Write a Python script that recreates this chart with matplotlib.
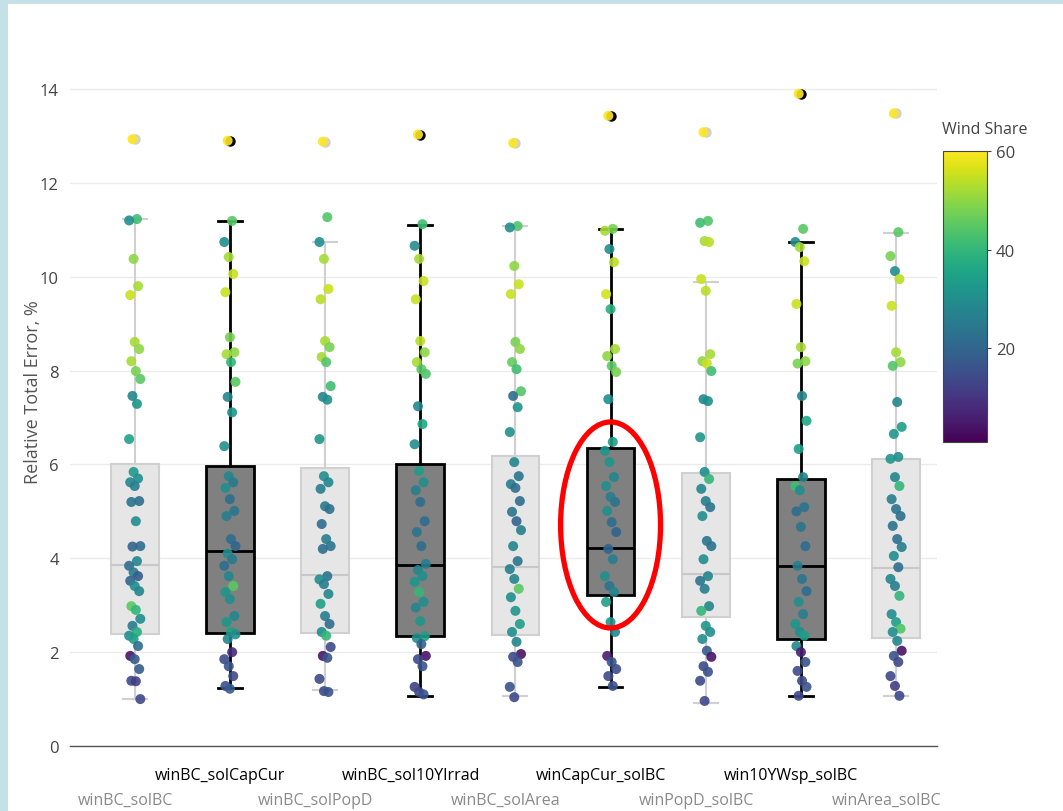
import numpy as np
import matplotlib
matplotlib.use("Agg")
import matplotlib.pyplot as plt
from matplotlib.patches import Ellipse, Rectangle

plt.rcParams['font.family'] = ['Open Sans', 'DejaVu Sans']

# method names, in plotting order
methods = ['winBC_solBC', 'winBC_solCapCur', 'winBC_solPopD', 'winBC_sol10YIrrad',
           'winBC_solArea', 'winCapCur_solBC', 'winPopD_solBC', 'win10YWsp_solBC',
           'winArea_solBC']
highlight = [False, True, False, True, False, True, False, True, False]

# box statistics (%)
q1 = [2.39, 2.41, 2.41, 2.34, 2.36, 3.22, 2.75, 2.28, 2.30]
med = [3.86, 4.16, 3.64, 3.86, 3.81, 4.22, 3.66, 3.84, 3.79]
q3 = [6.00, 5.97, 5.92, 6.01, 6.18, 6.35, 5.82, 5.69, 6.12]
whislo = [1.00, 1.24, 1.19, 1.07, 1.07, 1.26, 0.92, 1.07, 1.07]
whishi = [11.23, 11.19, 10.74, 11.10, 11.08, 11.02, 9.89, 10.74, 10.93]
outlier = [12.93, 12.90, 12.88, 13.03, 12.85, 13.43, 13.08, 13.90, 13.48]

# relative total error of each run (%) and its wind share
err1 = [12.93, 11.23, 11.2, 10.38, 9.80, 9.61, 8.61, 8.46, 8.2, 7.99, 7.82, 7.46, 7.29, 6.54, 5.84,
        5.7, 5.62, 5.54, 5.22, 5.2, 4.79, 4.26, 4.25, 3.94, 3.84, 3.7, 3.62, 3.52, 3.41, 3.30,
        2.98, 2.9, 2.71, 2.56, 2.43, 2.35, 2.28, 2.13, 1.92, 1.85, 1.64, 1.39, 1.38, 1.0]
wind1 = [60, 42, 30, 50, 52, 55, 52, 50, 52, 48, 45, 28, 32, 35, 33, 30, 28, 26, 22, 24, 30, 22,
         20, 28, 22, 25, 18, 20, 30, 28, 45, 40, 30, 25, 38, 30, 34, 22, 4, 18, 18, 14, 12, 14]
err2 = [12.9, 11.19, 10.74, 10.42, 10.06, 9.67, 8.71, 8.39, 8.35, 8.18, 7.76, 7.44, 7.11, 6.39,
        5.75, 5.62, 5.5, 5.26, 5.01, 4.9, 4.41, 4.26, 4.1, 3.98, 3.84, 3.62, 3.41, 3.28, 3.13,
        2.77, 2.64, 2.43, 2.38, 2.28, 2.0, 1.85, 1.70, 1.49, 1.28, 1.22]
wind2 = [60, 45, 30, 52, 55, 55, 48, 50, 52, 40, 45, 28, 32, 30, 28, 25, 30, 22, 24, 26, 22, 20,
         30, 25, 22, 28, 45, 32, 30, 28, 32, 35, 30, 28, 8, 14, 16, 14, 16, 18]
err3 = [12.88, 11.27, 10.74, 10.38, 9.74, 9.52, 8.63, 8.50, 8.29, 8.18, 7.67, 7.44, 7.38, 6.54,
        5.75, 5.62, 5.48, 5.11, 5.05, 4.73, 4.41, 4.26, 4.2, 3.62, 3.55, 3.45, 3.24, 3.03, 2.77,
        2.60, 2.43, 2.35, 2.11, 1.92, 1.88, 1.43, 1.17, 1.15]
wind3 = [60, 44, 30, 52, 55, 54, 52, 48, 52, 44, 42, 28, 30, 32, 30, 28, 26, 25, 22, 22, 26, 24,
         22, 24, 30, 26, 28, 34, 26, 22, 30, 40, 14, 4, 16, 14, 14, 16]
err4 = [13.03, 11.12, 10.66, 10.38, 9.91, 9.52, 8.63, 8.39, 8.18, 8.03, 7.93, 7.24, 6.86, 6.43,
        5.86, 5.62, 5.45, 5.20, 4.79, 4.56, 4.26, 3.88, 3.75, 3.62, 3.5, 3.28, 3.07, 2.95, 2.66,
        2.34, 2.3, 2.17, 1.92, 1.85, 1.70, 1.26, 1.15, 1.1]
wind4 = [60, 42, 30, 52, 55, 55, 54, 50, 52, 45, 44, 28, 36, 30, 34, 30, 26, 22, 22, 24, 22, 26,
         28, 30, 32, 40, 30, 28, 32, 34, 30, 20, 4, 14, 16, 12, 14, 16]
err5 = [12.85, 11.08, 11.05, 10.23, 9.84, 9.63, 8.61, 8.46, 8.18, 8.03, 7.56, 7.46, 7.22, 6.69,
        6.05, 5.75, 5.58, 5.5, 5.22, 4.99, 4.79, 4.6, 4.26, 3.94, 3.77, 3.56, 3.35, 3.17, 2.88,
        2.60, 2.43, 2.22, 1.96, 1.9, 1.79, 1.26, 1.04]
wind5 = [60, 44, 30, 50, 55, 55, 48, 50, 46, 42, 44, 22, 32, 30, 28, 24, 26, 22, 22, 24, 20, 26,
         28, 24, 26, 28, 45, 30, 32, 34, 30, 28, 4, 14, 16, 16, 14]
err6 = [13.43, 11.02, 10.98, 10.59, 10.31, 9.63, 9.31, 8.46, 8.31, 8.10, 7.97, 7.39, 6.48, 6.29,
        6.05, 5.73, 5.54, 5.31, 5.2, 5.01, 4.77, 4.56, 4.20, 3.98, 3.62, 3.41, 3.28, 3.07, 2.64,
        2.43, 1.92, 1.79, 1.64, 1.49, 1.28]
wind6 = [60, 48, 52, 30, 54, 56, 38, 52, 50, 45, 48, 30, 34, 32, 32, 28, 30, 26, 24, 30, 22, 20,
         20, 26, 30, 24, 28, 34, 32, 28, 6, 16, 14, 14, 16]
err7 = [13.08, 11.19, 11.15, 10.76, 10.74, 9.95, 9.70, 8.35, 8.20, 8.15, 7.99, 7.39, 7.35, 6.58,
        5.84, 5.69, 5.48, 5.22, 5.09, 4.90, 4.37, 4.26, 3.98, 3.62, 3.52, 3.35, 2.98, 2.88, 2.56,
        2.43, 2.28, 2.03, 1.90, 1.70, 1.58, 1.39, 0.96]
wind7 = [60, 44, 42, 52, 54, 55, 54, 52, 50, 55, 42, 28, 30, 32, 30, 40, 28, 26, 24, 30, 24, 24,
         30, 28, 24, 26, 28, 40, 32, 30, 30, 18, 4, 14, 16, 14, 14]
err8 = [13.9, 11.02, 10.74, 10.63, 10.33, 9.42, 8.50, 8.20, 8.15, 7.46, 6.93, 6.33, 5.73, 5.54,
        5.45, 5.09, 5.0, 4.67, 4.26, 3.84, 3.56, 3.30, 3.07, 2.81, 2.6, 2.43, 2.35, 2.13, 2.0,
        1.79, 1.60, 1.39, 1.26, 1.07]
wind8 = [60, 45, 30, 52, 55, 55, 52, 50, 48, 28, 36, 34, 28, 42, 30, 24, 22, 24, 22, 26, 24, 22,
         30, 26, 32, 30, 34, 28, 6, 16, 14, 14, 16, 14]
err9 = [13.48, 10.95, 10.44, 10.12, 9.95, 9.38, 8.39, 8.18, 8.10, 7.33, 6.80, 6.65, 6.16, 6.12,
        5.73, 5.54, 5.26, 5.05, 4.9, 4.69, 4.41, 4.24, 4.05, 3.81, 3.56, 3.41, 3.20, 2.81, 2.64,
        2.5, 2.43, 2.24, 2.03, 1.92, 1.79, 1.49, 1.28, 1.07]
wind9 = [60, 45, 48, 30, 54, 55, 52, 50, 44, 28, 34, 32, 30, 32, 28, 40, 26, 24, 22, 24, 22, 26,
         30, 22, 28, 26, 40, 30, 34, 44, 30, 28, 4, 16, 14, 14, 12, 14]

errs = [err1, err2, err3, err4, err5, err6, err7, err8, err9]
winds = [wind1, wind2, wind3, wind4, wind5, wind6, wind7, wind8, wind9]

fig = plt.figure(figsize=(10.63, 8.12), dpi=100)
fig.patch.set_facecolor('#c3e1e7')
fig.add_artist(Rectangle((8 / 1063, 0), 1, 1 - 5 / 812, transform=fig.transFigure,
                         facecolor='white', edgecolor='none', zorder=0))

ax = fig.add_axes([70 / 1063, 1 - 747 / 812, (937 - 70) / 1063, (747 - 60) / 812])
ax.set_facecolor('none')

# boxes
for i in range(len(methods)):
    st = [dict(med=med[i], q1=q1[i], q3=q3[i], whislo=whislo[i], whishi=whishi[i],
               fliers=[outlier[i]])]
    if highlight[i]:
        edge, fill, medc, lw = 'black', '#808080', 'black', 2.0
        flier = dict(marker='o', markerfacecolor='black', markeredgecolor='none', markersize=7.5)
    else:
        edge, fill, medc, lw = '#d0d0d0', '#e6e6e6', '#c8c8c8', 1.5
        flier = dict(marker='o', markerfacecolor='#d0d0d0', markeredgecolor='none', markersize=7.5)
    ax.bxp(st, positions=[i], widths=0.5, patch_artist=True, capwidths=0.25,
           boxprops=dict(facecolor=fill, edgecolor=edge, linewidth=lw),
           medianprops=dict(color=medc, linewidth=lw),
           whiskerprops=dict(color=edge, linewidth=lw),
           capprops=dict(color=edge, linewidth=lw),
           flierprops=flier, zorder=2)

# jittered points
for i in range(len(methods)):
    n = len(errs[i])
    jit = (((np.arange(n) * 37 + 3) % 11) - 5) / 85.0
    sc = ax.scatter(i + jit, errs[i], c=winds[i], cmap='viridis', vmin=1, vmax=60,
                    s=52, alpha=0.9, edgecolors='none', zorder=3)

ax.set_xlim(-0.68, 8.43)
ax.set_ylim(0, 14.64)
ax.set_yticks([0, 2, 4, 6, 8, 10, 12, 14])
ax.tick_params(axis='y', length=0, labelsize=12, labelcolor='#444444', pad=8)
ax.set_xticks([])
ax.grid(axis='y', color='#ebebeb', linewidth=1)
ax.set_axisbelow(True)
for s in ['top', 'right', 'left']:
    ax.spines[s].set_visible(False)
ax.spines['bottom'].set_color('#555555')
ax.spines['bottom'].set_linewidth(1)
ax.set_ylabel('Relative Total Error, %', fontsize=13, color='#555555')
ax.yaxis.set_label_coords(-0.032, 0.516)

# staggered method labels
for i, name in enumerate(methods):
    if i % 2 == 1:
        ax.text(i - 0.1, -0.45, name, ha='center', va='top', fontsize=11.5,
                color='black', transform=ax.transData, clip_on=False)
    else:
        ax.text(i - 0.1, -0.97, name, ha='center', va='top', fontsize=11.5,
                color='#8a8a8a', transform=ax.transData, clip_on=False)

# highlight ellipse
ax.add_patch(Ellipse((5, 4.71), 1.05, 4.39, fill=False, edgecolor='#ff0000',
                     linewidth=3.8, zorder=5, clip_on=False))

# colour bar
cax = fig.add_axes([943 / 1063, 1 - 443 / 812, 44 / 1063, 291 / 812])
cb = fig.colorbar(sc, cax=cax)
cb.solids.set_alpha(1)
cb.set_ticks([20, 40, 60])
cb.outline.set_edgecolor('#444444')
cb.outline.set_linewidth(0.8)
cax.tick_params(labelsize=12, labelcolor='#444444', length=3, color='#444444')
fig.text(942 / 1063, 1 - 130 / 812, 'Wind Share', fontsize=11.5, color='#444444',
         ha='left', va='center')

fig.savefig('out.png', dpi=100)
